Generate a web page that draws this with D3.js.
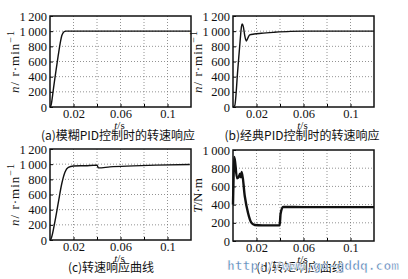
<!DOCTYPE html>
<html>
<head>
<meta charset="UTF-8">
<title>speed and torque response</title>
<script src="https://d3js.org/d3.v7.min.js"></script>
<style>
    body { margin: 0; background: #fff; }
    svg text { font-family: "Liberation Serif", "DejaVu Serif", serif; fill: #111; }
    .cap { font-family: "Noto Sans CJK SC", sans-serif; font-size: 12px; }
    .grid line { stroke: #777; stroke-dasharray: 1,2; stroke-width: 0.8; }
</style>
</head>
<body>
<div id="chart"></div>
<script>
// ticks
var timeTicks = [0.02, 0.04, 0.06, 0.08, 0.1];
var timeLabels = [0.02, 0.06, 0.1];
var speedTicks = [0, 200, 400, 600, 800, 1000, 1200];
var torqueTicks = [0, 200, 400, 600, 800, 1000];

// (t [s], value)
var fuzzySpeed = [[0, 0], [0.001, 30], [0.003, 250], [0.005, 470], [0.007, 680], [0.009, 870],
    [0.010, 940], [0.011, 975], [0.012, 992], [0.0135, 1000], [0.12, 1000]];
var pidSpeed = [[0, 0], [0.0015, 20], [0.004, 480], [0.006, 860], [0.0072, 1060], [0.0078, 1095],
    [0.0088, 1060], [0.010, 940], [0.0113, 870], [0.0125, 905], [0.0142, 950], [0.018, 962],
    [0.024, 972], [0.035, 985], [0.049, 997], [0.06, 1000], [0.12, 1000]];
var loadSpeed = [[0, 0], [0.001, 20], [0.0043, 253], [0.0071, 497], [0.010, 742], [0.0128, 898],
    [0.0156, 957], [0.020, 975], [0.030, 980], [0.040, 987], [0.0412, 951], [0.051, 964],
    [0.071, 977], [0.09, 987], [0.119, 996]];
var loadTorque = [[0, 400], [0.0012, 925], [0.0034, 690], [0.0048, 700], [0.006, 740], [0.0068, 700],
    [0.0075, 760], [0.010, 494], [0.0128, 307], [0.0156, 202], [0.0185, 176], [0.025, 172],
    [0.0397, 172], [0.0405, 300], [0.0426, 374], [0.06, 372], [0.12, 372]];

var captions = ["(a)模糊PID控制时的转速响应", "(b)经典PID控制时的转速响应", "(c)转速响应曲线", "(d)转矩响应曲线"];

var svg = d3.select("#chart").append("svg")
    .attr("width", 408)
    .attr("height", 279);

var panels = [
    {x: 50, y: 16, data: fuzzySpeed, ticks: speedTicks, max: 1200, cap: captions[0], lab: "n", lw: 1.4, capX: 118, capY: 140},
    {x: 233, y: 16, data: pidSpeed, ticks: speedTicks, max: 1200, cap: captions[1], lab: "n", lw: 1.4, capX: 302, capY: 140},
    {x: 50, y: 149, data: loadSpeed, ticks: speedTicks, max: 1200, cap: captions[2], lab: "n", lw: 1.4, capX: 111, capY: 272},
    {x: 233, y: 150, data: loadTorque, ticks: torqueTicks, max: 1000, cap: captions[3], lab: "T", lw: 2.4, capX: 300, capY: 272}
];

var w = 141, h = 91;

function fmt(v) {
    return v >= 1000 ? Math.floor(v / 1000) + "\u2009" + d3.format("03d")(v % 1000) : String(v);
}

panels.forEach(function (p) {
    var g = svg.append("g").attr("transform", "translate(" + p.x + "," + p.y + ")");
    var x = d3.scaleLinear().domain([0, 0.12]).range([0, w]);
    var y = d3.scaleLinear().domain([0, p.max]).range([h, 0]);

    // grid
    var grid = g.append("g").attr("class", "grid");
    grid.selectAll(".gx").data(timeTicks).enter().append("line")
        .attr("x1", d => x(d)).attr("x2", d => x(d)).attr("y1", 0).attr("y2", h);
    grid.selectAll(".gy").data(p.ticks.filter(d => d > 0 && d < p.max)).enter().append("line")
        .attr("x1", 0).attr("x2", w).attr("y1", d => y(d)).attr("y2", d => y(d));

    // axes (ticks inward)
    var ax = g.append("g").attr("transform", "translate(0," + h + ")")
        .call(d3.axisBottom(x).tickValues(timeTicks).tickSize(-3)
            .tickFormat(d => timeLabels.indexOf(d) >= 0 ? d : ""));
    ax.select(".domain").remove();
    ax.selectAll("text").attr("y", 2).attr("dy", "0.71em").style("font-size", "12.5px");

    var ay = g.append("g")
        .call(d3.axisLeft(y).tickValues(p.ticks).tickSize(-3).tickFormat(fmt));
    ay.select(".domain").remove();
    ay.selectAll("text").attr("x", -3).style("font-size", "12.5px");

    // curve
    g.append("path")
        .datum(p.data)
        .attr("fill", "none")
        .attr("stroke", "#111")
        .attr("stroke-width", p.lw)
        .attr("stroke-linejoin", "round")
        .attr("d", d3.line().x(d => x(d[0])).y(d => y(d[1])).curve(d3.curveMonotoneX));

    // frame
    g.append("rect").attr("width", w).attr("height", h)
        .attr("fill", "none").attr("stroke", "#111").attr("stroke-width", 1.5);

    // labels
    g.append("text").attr("x", w / 2 - 1).attr("y", h + 22)
        .attr("text-anchor", "middle").style("font-size", "11px")
        .html("<tspan font-style='italic'>t</tspan>/s");

    var yl = g.append("text")
        .attr("transform", "translate(-31," + (h / 2) + ") rotate(-90)")
        .attr("text-anchor", "middle").style("font-size", "13px");
    if (p.lab === "n") {
        yl.html("<tspan font-style='italic'>n</tspan>/ r·min<tspan dy='-5' font-size='10px'>−1</tspan>")
            .style("letter-spacing", "1px");
    } else {
        yl.html("<tspan font-style='italic'>T</tspan>/N·m");
    }

    svg.append("text").attr("class", "cap")
        .attr("x", p.capX).attr("y", p.capY)
        .attr("text-anchor", "middle")
        .text(p.cap);
});

// watermark of the scan
svg.append("text")
    .attr("x", 313).attr("y", 270)
    .attr("text-anchor", "middle")
    .style("font-family", "'DejaVu Sans Mono', monospace")
    .style("font-weight", "bold")
    .style("font-size", "13px")
    .style("fill", "#3f73ad")
    .style("fill-opacity", 0.85)
    .style("stroke", "#fff")
    .style("stroke-width", 0.6)
    .text("http://www.go-gddq.com");
</script>
</body>
</html>
